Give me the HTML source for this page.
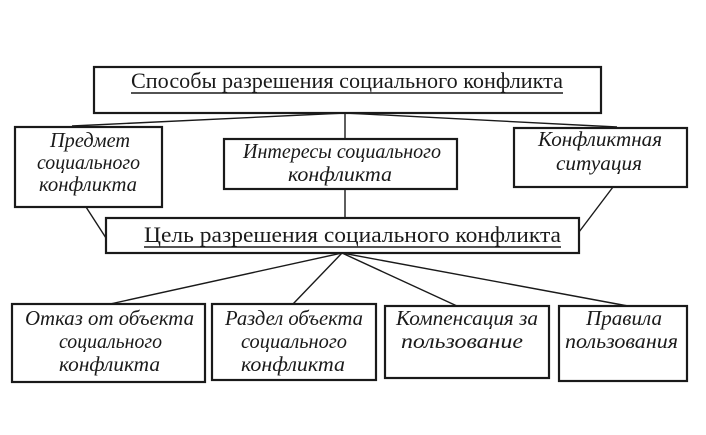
<!DOCTYPE html>
<html><head><meta charset="utf-8"><style>
html,body{margin:0;padding:0;background:#fff;}
svg{display:block}
text{font-family:"Liberation Serif",serif;fill:#1a1a1a}
.i{font-style:italic;font-size:21px}
</style></head><body>
<svg width="706" height="435" viewBox="0 0 706 435" xmlns="http://www.w3.org/2000/svg">
<g stroke="#1a1a1a" fill="none">
<rect x="94" y="67" width="507" height="46" stroke-width="2.2"/>
<rect x="15" y="127" width="147" height="80" stroke-width="2.2"/>
<rect x="224" y="139" width="233" height="50" stroke-width="2.2"/>
<rect x="514" y="128" width="173" height="59" stroke-width="2.2"/>
<rect x="106" y="218" width="473" height="35" stroke-width="2.2"/>
<rect x="12" y="304" width="193" height="78" stroke-width="2.2"/>
<rect x="212" y="304" width="164" height="76" stroke-width="2.2"/>
<rect x="385" y="306" width="164" height="72" stroke-width="2.2"/>
<rect x="559" y="306" width="128" height="75" stroke-width="2.2"/>
<g stroke-width="1.4">
<line x1="345" y1="113" x2="72" y2="126"/>
<line x1="345" y1="113" x2="617" y2="127"/>
<line x1="345" y1="113" x2="345" y2="139"/>
<line x1="345" y1="189" x2="345" y2="218"/>
<line x1="86" y1="207" x2="106" y2="238"/>
<line x1="613" y1="187" x2="579" y2="232"/>
<line x1="342" y1="253" x2="110" y2="304"/>
<line x1="342" y1="253" x2="293" y2="304"/>
<line x1="342" y1="253" x2="457" y2="306"/>
<line x1="342" y1="253" x2="628" y2="306"/>
<line x1="131" y1="93" x2="563" y2="93"/>
<line x1="144" y1="247" x2="561" y2="247"/>
</g>
</g>
<text x="131" y="88" font-size="22" textLength="432" lengthAdjust="spacingAndGlyphs">Способы разрешения социального конфликта</text>
<text x="144" y="242" font-size="22" textLength="417" lengthAdjust="spacingAndGlyphs">Цель разрешения социального конфликта</text>
<g lengthAdjust="spacingAndGlyphs">
<text class="i" x="50" y="147" textLength="80" lengthAdjust="spacingAndGlyphs">Предмет</text>
<text class="i" x="37" y="169" textLength="103" lengthAdjust="spacingAndGlyphs">социального</text>
<text class="i" x="39" y="191" textLength="98" lengthAdjust="spacingAndGlyphs">конфликта</text>
<text class="i" x="243" y="158" textLength="198" lengthAdjust="spacingAndGlyphs">Интересы социального</text>
<text class="i" x="288" y="181" textLength="104" lengthAdjust="spacingAndGlyphs">конфликта</text>
<text class="i" x="538" y="146" textLength="124" lengthAdjust="spacingAndGlyphs">Конфликтная</text>
<text class="i" x="556" y="170" textLength="86" lengthAdjust="spacingAndGlyphs">ситуация</text>
<text class="i" x="25" y="325" textLength="169" lengthAdjust="spacingAndGlyphs">Отказ от объекта</text>
<text class="i" x="59" y="348" textLength="103" lengthAdjust="spacingAndGlyphs">социального</text>
<text class="i" x="59" y="371" textLength="101" lengthAdjust="spacingAndGlyphs">конфликта</text>
<text class="i" x="225" y="325" textLength="138" lengthAdjust="spacingAndGlyphs">Раздел объекта</text>
<text class="i" x="241" y="348" textLength="106" lengthAdjust="spacingAndGlyphs">социального</text>
<text class="i" x="241" y="371" textLength="104" lengthAdjust="spacingAndGlyphs">конфликта</text>
<text class="i" x="396" y="325" textLength="142" lengthAdjust="spacingAndGlyphs">Компенсация за</text>
<text class="i" x="401" y="348" textLength="122" lengthAdjust="spacingAndGlyphs">пользование</text>
<text class="i" x="586" y="325" textLength="76" lengthAdjust="spacingAndGlyphs">Правила</text>
<text class="i" x="565" y="348" textLength="113" lengthAdjust="spacingAndGlyphs">пользования</text>
</g>
</svg>
</body></html>
